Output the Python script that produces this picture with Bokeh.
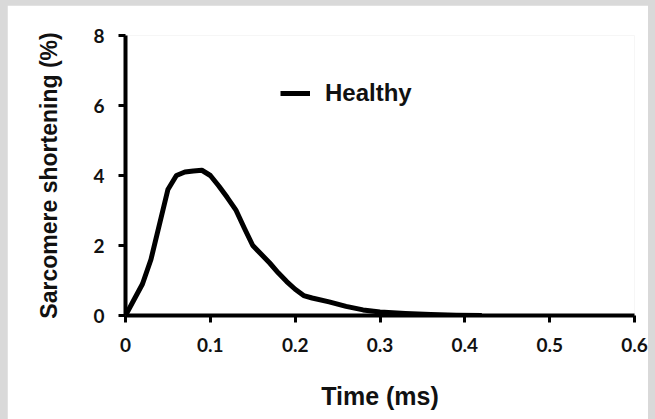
from bokeh.plotting import figure
from bokeh.models import Range1d, FixedTicker, Legend, LegendItem
from bokeh.layouts import column
from bokeh.embed import file_html
from bokeh.resources import INLINE

time_ms = [0.00, 0.01, 0.02, 0.03, 0.04, 0.05, 0.06, 0.07, 0.08, 0.09, 0.10,
           0.11, 0.12, 0.13, 0.14, 0.15, 0.16, 0.17, 0.18, 0.19, 0.20, 0.21,
           0.22, 0.24, 0.26, 0.28, 0.30, 0.33, 0.36, 0.39, 0.42]
healthy = [0.0, 0.45, 0.9, 1.6, 2.6, 3.6, 4.0, 4.1, 4.13, 4.15, 4.0,
           3.7, 3.37, 3.02, 2.5, 2.0, 1.75, 1.5, 1.22, 0.97, 0.75, 0.57,
           0.5, 0.39, 0.26, 0.16, 0.1, 0.06, 0.03, 0.01, 0.0]
x_ticks = [0, 0.1, 0.2, 0.3, 0.4, 0.5, 0.6]
y_ticks = [0, 2, 4, 6, 8]
series_name = "Healthy"

p = figure(width=641, height=414, output_backend="svg", toolbar_location=None,
           x_range=Range1d(0, 0.6), y_range=Range1d(0, 8),
           min_border_left=118, min_border_right=14, min_border_top=30,
           min_border_bottom=104)
p.margin = (5, 0, 0, 7)
p.outline_line_color = None
p.background_fill_color = "white"
p.border_fill_color = "white"
p.grid.visible = False

r = p.line(time_ms, healthy, line_width=5, line_color="black", line_join="round")

for ax in (p.xaxis[0], p.yaxis[0]):
    ax.axis_line_width = 4
    ax.axis_line_color = "black"
    ax.major_tick_line_width = 3
    ax.major_tick_line_color = "black"
    ax.major_tick_in = 0
    ax.major_tick_out = 7
    ax.minor_tick_line_color = None
    ax.major_label_text_font = "Lato"
    ax.major_label_text_font_style = "bold"
    ax.major_label_text_font_size = "19px"
    ax.major_label_text_color = "#111111"
    ax.axis_label_text_font = "Liberation Sans"
    ax.axis_label_text_font_style = "bold"
    ax.axis_label_text_color = "#111111"

p.xaxis.ticker = FixedTicker(ticks=x_ticks)
p.yaxis.ticker = FixedTicker(ticks=y_ticks)
p.xaxis.major_label_overrides = {0: "0"}
p.xaxis.major_label_standoff = 15
p.yaxis.major_label_standoff = 14
p.xaxis.axis_label = "Time (ms)"
p.yaxis.axis_label = "Sarcomere shortening (%)"
p.xaxis.axis_label_text_font_size = "25px"
p.yaxis.axis_label_text_font_size = "23px"
p.xaxis.axis_label_standoff = 27
p.yaxis.axis_label_standoff = 28

legend = Legend(items=[LegendItem(label=series_name, renderers=[r])],
                location=(155, 208), border_line_color=None,
                background_fill_alpha=0, padding=0, margin=0,
                glyph_width=30, glyph_height=24, label_height=24,
                label_standoff=15, label_text_font="Liberation Sans",
                label_text_font_style="bold", label_text_font_size="24px",
                label_text_color="#111111")
p.add_layout(legend, "center")

layout = column(p, width=655, height=419,
                styles={"background-color": "#d9d9d9"})

open("out.html", "w").write(file_html(layout, INLINE))
